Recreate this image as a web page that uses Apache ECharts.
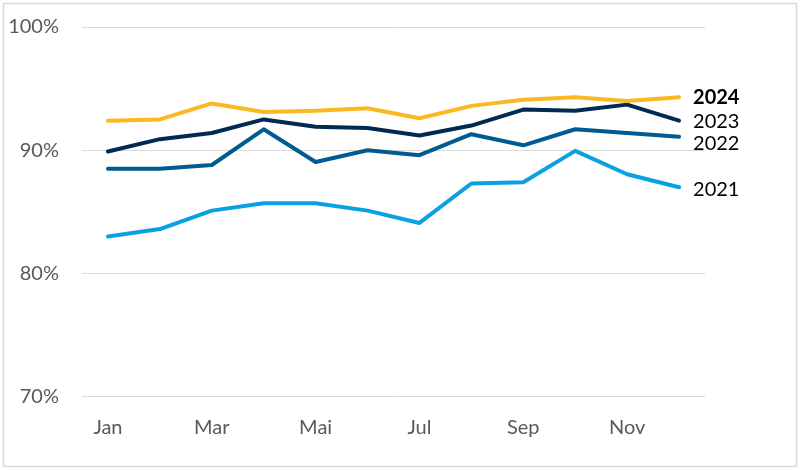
<!DOCTYPE html>
<html>
<head>
<meta charset="utf-8">
<script src="https://cdn.jsdelivr.net/npm/echarts@6/dist/echarts.min.js"></script>
<style>
html,body{margin:0;padding:0;background:#fff;}
#chart{width:800px;height:470px;}
</style>
</head>
<body>
<div id="chart"></div>
<script>
var months = ['Jan','Feb','Mar','Apr','Mai','Jun','Jul','Aug','Sep','Okt','Nov','Dez'];
var yearNames = ['2021','2022','2023','2024'];
var v2021 = [83.0, 83.6, 85.1, 85.7, 85.7, 85.1, 84.1, 87.3, 87.4, 89.95, 88.05, 87.0];
var v2022 = [88.5, 88.5, 88.8, 91.7, 89.05, 90.0, 89.6, 91.3, 90.4, 91.7, 91.4, 91.1];
var v2023 = [89.9, 90.9, 91.4, 92.5, 91.9, 91.8, 91.2, 92.0, 93.3, 93.2, 93.7, 92.4];
var v2024 = [92.4, 92.5, 93.8, 93.1, 93.2, 93.4, 92.6, 93.6, 94.1, 94.3, 94.0, 94.3];
var yTicks = [70, 80, 90, 100];

var colors = ['#0AA1E2', '#005B92', '#002A52', '#FAB923'];
var values = [v2021, v2022, v2023, v2024];
var labelOffsets = [[0, 2], [0, 7], [0, 1], [0, 0]];
var weights = ['normal', 'normal', 'normal', 'bold'];
var FONT = 'Lato, "Source Sans Pro", sans-serif';

var series = yearNames.map(function (name, i) {
  return {
    name: name,
    type: 'line',
    data: values[i],
    showSymbol: false,
    symbol: 'none',
    lineStyle: { width: 4, color: colors[i], cap: 'round', join: 'round' },
    itemStyle: { color: colors[i] },
    z: 2 + i,
    endLabel: {
      show: true,
      formatter: '{a}',
      distance: 14,
      offset: labelOffsets[i],
      color: '#000',
      fontSize: 20,
      fontFamily: FONT,
      fontWeight: weights[i]
    }
  };
});

var chart = echarts.init(document.getElementById('chart'), null, { renderer: 'canvas' });
chart.setOption({
  animation: false,
  backgroundColor: '#fff',
  grid: { left: 82, right: 95, top: 27, bottom: 73.3 },
  xAxis: {
    type: 'category',
    data: months,
    boundaryGap: true,
    axisLine: { show: false },
    axisTick: { show: false },
    axisLabel: {
      interval: 1,
      color: '#595959',
      fontSize: 20,
      fontFamily: FONT,
      margin: 21
    },
    splitLine: { show: false }
  },
  yAxis: {
    type: 'value',
    min: yTicks[0],
    max: yTicks[yTicks.length - 1],
    interval: 10,
    axisLine: { show: false },
    axisTick: { show: false },
    axisLabel: {
      color: '#595959',
      fontSize: 20,
      fontFamily: FONT,
      margin: 23,
      formatter: '{value}%'
    },
    splitLine: { show: true, lineStyle: { color: '#d9d9d9', width: 1 } }
  },
  graphic: [{
    type: 'rect',
    shape: { x: 3.5, y: 3.5, width: 793, height: 463 },
    style: { fill: 'none', stroke: '#d9d9d9', lineWidth: 1.5 },
    silent: true
  }],
  series: series
});
</script>
</body>
</html>
